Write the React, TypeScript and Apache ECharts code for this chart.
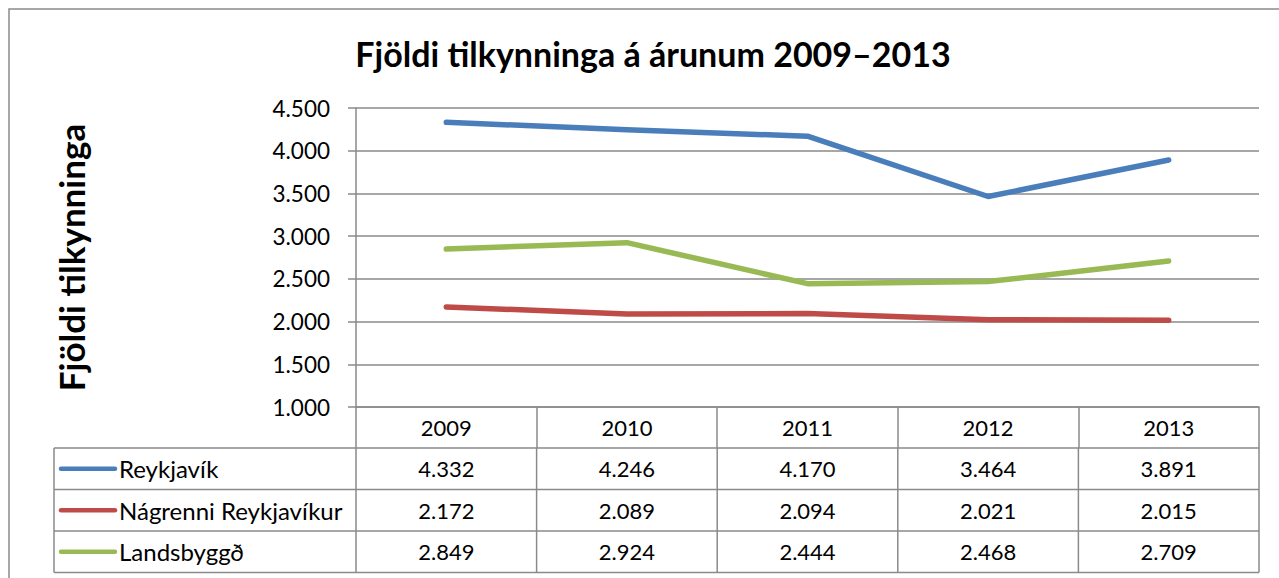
import React, { useEffect, useRef } from "react";
import * as echarts from "echarts";

const years = ["2009", "2010", "2011", "2012", "2013"];
const seriesNames = ["Reykjavík", "Nágrenni Reykjavíkur", "Landsbyggð"];
const reykjavik = [4332, 4246, 4170, 3464, 3891];
const nagrenni = [2172, 2089, 2094, 2021, 2015];
const landsbyggd = [2849, 2924, 2444, 2468, 2709];
const colors = ["#4A7EBB", "#BE4B48", "#98B954"];
const title = "Fjöldi tilkynninga á árunum 2009–2013";
const yName = "Fjöldi tilkynninga";

const FONT = "Lato, 'Open Sans', sans-serif";
const GRID_LEFT = 356;
const GRID_RIGHT = 1259;
const GRID_TOP = 108;
const GRID_BOTTOM = 407;
const HEADER_BOTTOM = 448;
const ROW_H = 41.5;
const TABLE_LEFT = 54;
const LINE_C = "#8a8a8a";

function fmt(n: number): string {
  const s = Math.round(n).toString();
  return s.replace(/\B(?=(\d{3})+(?!\d))/g, ".");
}

export default function App() {
  const ref = useRef<HTMLDivElement>(null);
  useEffect(() => {
    if (!ref.current) return;
    const chart = echarts.init(ref.current, null, { renderer: "svg" });
    const allData = [reykjavik, nagrenni, landsbyggd];
    const colW = (GRID_RIGHT - GRID_LEFT) / years.length;

    const graphics: any[] = [];
    graphics.push({
      type: "rect",
      shape: { x: 9, y: 9, width: 1400, height: 700 },
      style: { fill: "none", stroke: LINE_C, lineWidth: 1.5 },
      silent: true,
    });
    for (let r = 0; r <= seriesNames.length; r++) {
      const y = HEADER_BOTTOM + r * ROW_H;
      graphics.push({
        type: "line",
        shape: { x1: TABLE_LEFT, y1: y, x2: GRID_RIGHT, y2: y },
        style: { stroke: LINE_C, lineWidth: 1.5 },
        silent: true,
      });
    }
    const vx = [TABLE_LEFT];
    for (let c = 0; c <= years.length; c++) vx.push(GRID_LEFT + c * colW);
    vx.forEach((x) => {
      graphics.push({
        type: "line",
        shape: { x1: x, y1: HEADER_BOTTOM, x2: x, y2: HEADER_BOTTOM + seriesNames.length * ROW_H },
        style: { stroke: LINE_C, lineWidth: 1.5 },
        silent: true,
      });
    });
    seriesNames.forEach((name, r) => {
      const cy = HEADER_BOTTOM + r * ROW_H + ROW_H / 2;
      graphics.push({
        type: "line",
        shape: { x1: 61, y1: cy, x2: 115, y2: cy },
        style: { stroke: colors[r], lineWidth: 4.5, lineCap: "round" },
        silent: true,
      });
      graphics.push({
        type: "text",
        x: 119,
        y: cy,
        style: {
          text: name,
          font: `24px ${FONT}`,
          fill: "#000",
          textAlign: "left",
          textVerticalAlign: "middle",
        },
        silent: true,
      });
      allData[r].forEach((v, c) => {
        graphics.push({
          type: "text",
          x: GRID_LEFT + c * colW + colW / 2,
          y: cy,
          style: {
            text: fmt(v),
            font: `22px ${FONT}`,
            fill: "#000",
            textAlign: "center",
            textVerticalAlign: "middle",
          },
          silent: true,
        });
      });
    });

    chart.setOption({
      animation: false,
      backgroundColor: "#fff",
      title: {
        text: title,
        left: 648,
        top: 31,
        textAlign: "center",
        textStyle: { fontFamily: FONT, fontWeight: "bold", fontSize: 34, color: "#000" },
      },
      grid: {
        left: GRID_LEFT,
        right: 1279 - GRID_RIGHT,
        top: GRID_TOP,
        bottom: 578 - GRID_BOTTOM,
        containLabel: false,
      },
      xAxis: {
        type: "category",
        data: years,
        boundaryGap: true,
        axisLine: { show: true, lineStyle: { color: LINE_C, width: 1.5 } },
        axisTick: {
          show: true,
          inside: false,
          length: HEADER_BOTTOM - GRID_BOTTOM,
          lineStyle: { color: LINE_C, width: 1.5 },
        },
        axisLabel: { margin: 9, fontFamily: FONT, fontSize: 22, color: "#000" },
        splitLine: { show: false },
      },
      yAxis: {
        type: "value",
        min: 1000,
        max: 4500,
        interval: 500,
        name: yName,
        nameLocation: "middle",
        nameRotate: 90,
        nameGap: 268,
        nameTextStyle: { fontFamily: FONT, fontWeight: "bold", fontSize: 35, color: "#000" },
        axisLine: { show: true, lineStyle: { color: LINE_C, width: 1.5 } },
        axisTick: { show: true, length: 8, lineStyle: { color: LINE_C, width: 1.5 } },
        axisLabel: {
          margin: 26,
          fontFamily: FONT,
          fontSize: 22.5,
          color: "#000",
          formatter: (v: number) => fmt(v),
        },
        splitLine: { show: true, lineStyle: { color: LINE_C, width: 1.5 } },
      },
      series: seriesNames.map((name, i) => ({
        name,
        type: "line",
        data: allData[i],
        symbol: "none",
        lineStyle: { color: colors[i], width: 5.5, cap: "round", join: "round" },
        itemStyle: { color: colors[i] },
      })),
      graphic: graphics,
    });
    return () => chart.dispose();
  }, []);
  return (
    <div
      ref={ref}
      style={{ position: "fixed", left: 0, top: 0, width: 1279, height: 578 }}
    />
  );
}
